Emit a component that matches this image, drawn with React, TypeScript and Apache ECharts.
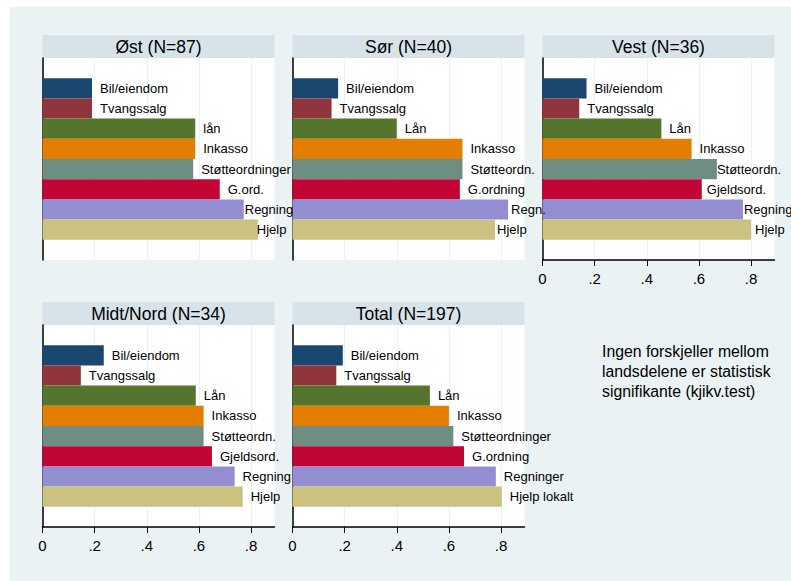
import React, { useEffect, useRef } from "react";
import * as echarts from "echarts";

// Regions shown as panels, in reading order
const regions = ["Øst", "Sør", "Vest", "Midt/Nord", "Total"];
const sampleSizes = [87, 40, 36, 34, 197];

// Problem areas (one bar each, top to bottom)
const categoryKeys = [
  "Bil/eiendom",
  "Tvangssalg",
  "Lån",
  "Inkasso",
  "Støtteordninger",
  "Gjeldsordning",
  "Regninger",
  "Hjelp lokalt",
];

// Share of respondents per problem area
const ostShares = [0.19, 0.19, 0.586, 0.586, 0.578, 0.68, 0.772, 0.826];
const sorShares = [0.175, 0.15, 0.4, 0.652, 0.652, 0.642, 0.827, 0.777];
const vestShares = [0.169, 0.141, 0.456, 0.572, 0.669, 0.611, 0.769, 0.8];
const midtNordShares = [0.235, 0.147, 0.588, 0.618, 0.618, 0.65, 0.737, 0.768];
const totalShares = [0.193, 0.168, 0.527, 0.6, 0.617, 0.658, 0.78, 0.803];

// Bar label texts per panel
const ostLabels = ["Bil/eiendom", "Tvangssalg", "lån", "Inkasso", "Støtteordninger", "G.ord.", "Regning", "Hjelp"];
const sorLabels = ["Bil/eiendom", "Tvangssalg", "Lån", "Inkasso", "Støtteordn.", "G.ordning", "Regn.", "Hjelp"];
const vestLabels = ["Bil/eiendom", "Tvangssalg", "Lån", "Inkasso", "Støtteordn.", "Gjeldsord.", "Regning", "Hjelp"];
const midtNordLabels = ["Bil/eiendom", "Tvangssalg", "Lån", "Inkasso", "Støtteordn.", "Gjeldsord.", "Regning", "Hjelp"];
const totalLabels = ["Bil/eiendom", "Tvangssalg", "Lån", "Inkasso", "Støtteordninger", "G.ordning", "Regninger", "Hjelp lokalt"];

// x-axis ticks
const tickValues = [0, 0.2, 0.4, 0.6, 0.8];
const tickLabels = ["0", ".2", ".4", ".6", ".8"];

const noteLines = [
  "Ingen forskjeller mellom",
  "landsdelene er statistisk",
  "signifikante (kjikv.test)",
];

const panelShares = [ostShares, sorShares, vestShares, midtNordShares, totalShares];
const panelLabels = [ostLabels, sorLabels, vestLabels, midtNordLabels, totalLabels];

// ---- styling ----
const FONT = "'Liberation Sans', Arial, Helvetica, sans-serif";
const barColors = ["#1a476f", "#90353b", "#55752f", "#e37e00", "#6e8e84", "#c10534", "#938dd2", "#cac27e"];
const BG = "#eaf2f3";
const HEADER_BG = "#d7e3e9";

const COL_LEFT = [42.5, 292.5, 542.5];
const ROW_TOP = [58, 325];
const PLOT_W = 232;
const PLOT_H = 202;
const HEADER_H = 23;
const X_MAX = 0.89;
const LABEL_GAP = 8;
// labels tucked closer to long bars so they stay inside the panel
const labelNudge: Record<number, Record<number, number>> = {
  0: { 6: 1, 7: -1 },
  1: { 6: 3, 7: 2 },
  2: { 4: 0, 5: 5, 6: 1, 7: 4 },
};
// panels whose x axis is drawn (nothing below them)
const showAxis = [false, false, true, true, true];

const panelPos = (i: number) => ({
  left: COL_LEFT[i % 3],
  top: ROW_TOP[Math.floor(i / 3)],
});

function buildOption(): echarts.EChartsOption {
  const grid: any[] = [];
  const xAxis: any[] = [];
  const yAxis: any[] = [];
  const series: any[] = [];
  const graphic: any[] = [];

  regions.forEach((region, i) => {
    const { left, top } = panelPos(i);
    grid.push({
      left,
      top,
      width: PLOT_W,
      height: PLOT_H,
      show: true,
      backgroundColor: "#ffffff",
      borderWidth: 0,
      containLabel: false,
      outerBoundsMode: "none",
    });
    xAxis.push({
      type: "value",
      gridIndex: i,
      min: 0,
      max: X_MAX,
      interval: 0.2,
      axisLine: { show: showAxis[i], onZero: false, lineStyle: { color: "#000", width: 1.5 } },
      axisTick: {
        show: showAxis[i],
        length: 6,
        customValues: tickValues,
        lineStyle: { color: "#000", width: 1 },
      },
      axisLabel: {
        show: showAxis[i],
        customValues: tickValues,
        margin: 11,
        fontSize: 15,
        fontFamily: FONT,
        color: "#000",
        formatter: (v: number) => {
          const k = tickValues.findIndex((t) => Math.abs(t - v) < 1e-6);
          return k >= 0 ? tickLabels[k] : "";
        },
      },
      splitLine: { show: true, lineStyle: { color: BG, width: 1.2 } },
    });
    yAxis.push({
      type: "category",
      gridIndex: i,
      inverse: true,
      data: ["_top", ...categoryKeys, "_bottom"],
      axisLine: { show: true, lineStyle: { color: "#000", width: 1.5 } },
      axisTick: { show: false },
      axisLabel: { show: false },
      splitLine: { show: false },
    });

    const shares = panelShares[i];
    const labels = panelLabels[i];
    const data: any[] = ["-"];
    shares.forEach((v, k) => {
      const nudge = labelNudge[i]?.[k];
      data.push({
        value: v,
        name: categoryKeys[k],
        itemStyle: { color: barColors[k] },
        label: { distance: nudge !== undefined ? nudge : LABEL_GAP },
      });
    });
    data.push("-");

    series.push({
      type: "bar",
      name: region,
      xAxisIndex: i,
      yAxisIndex: i,
      barCategoryGap: "0%",
      data,
      label: {
        show: true,
        position: "right",
        distance: LABEL_GAP,
        fontSize: 13,
        fontFamily: FONT,
        color: "#000",
        formatter: (p: any) => labels[p.dataIndex - 1] ?? "",
      },
    });

    // panel header band
    graphic.push({
      type: "rect",
      shape: { x: left, y: top - HEADER_H, width: PLOT_W, height: HEADER_H },
      style: { fill: HEADER_BG },
      silent: true,
    });
    graphic.push({
      type: "text",
      x: left + PLOT_W / 2,
      y: top - HEADER_H / 2,
      style: {
        text: `${region} (N=${sampleSizes[i]})`,
        fill: "#000",
        font: `17.5px ${FONT}`,
        align: "center",
        verticalAlign: "middle",
        textAlign: "center",
        textVerticalAlign: "middle",
      },
      silent: true,
    });
  });

  graphic.push({
    type: "text",
    x: 602,
    y: 341.5,
    style: {
      text: noteLines.join("\n"),
      fill: "#000",
      font: `15.8px ${FONT}`,
      lineHeight: 20,
      align: "left",
      verticalAlign: "top",
      textAlign: "left",
      textVerticalAlign: "top",
    },
    silent: true,
  });

  return {
    animation: false,
    grid,
    xAxis,
    yAxis,
    series,
    graphic,
  } as any;
}

export default function App() {
  const ref = useRef<HTMLDivElement>(null);

  useEffect(() => {
    if (!ref.current) return;
    const chart = echarts.init(ref.current, undefined, { renderer: "svg" });
    chart.setOption(buildOption());
    return () => chart.dispose();
  }, []);

  return (
    <div
      ref={ref}
      style={{
        position: "fixed",
        left: 0,
        top: 0,
        width: 791,
        height: 581,
        background: `linear-gradient(${BG}, ${BG}) 10px 7px / 781px 574px no-repeat, #ffffff`,
      }}
    />
  );
}
